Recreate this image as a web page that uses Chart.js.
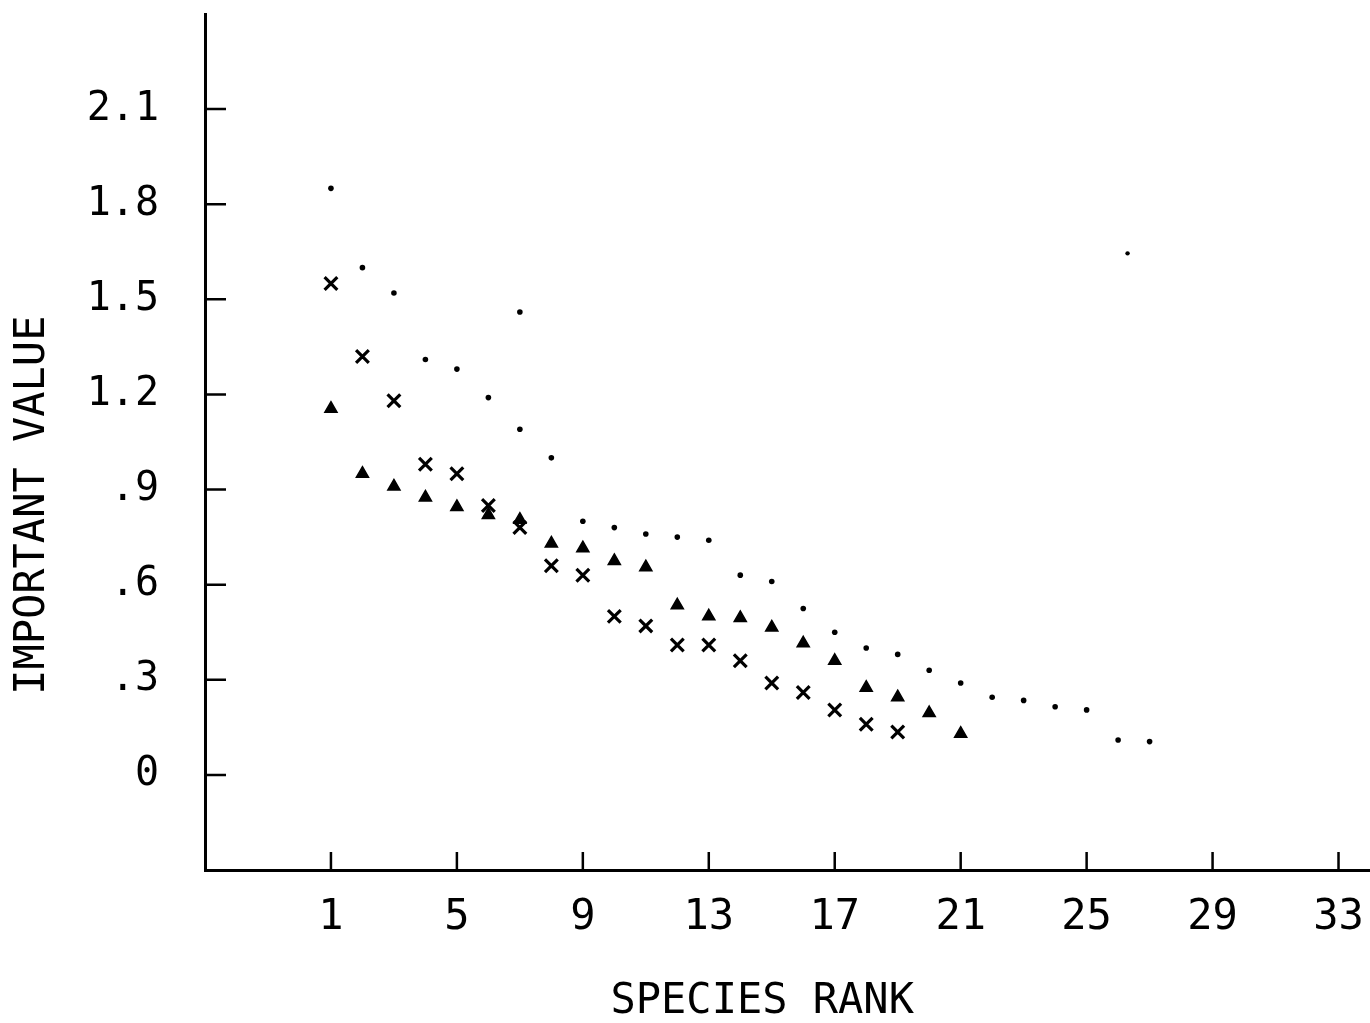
<!DOCTYPE html>
<html>
<head>
<meta charset="utf-8">
<title>Species rank vs important value</title>
<script src="https://cdn.jsdelivr.net/npm/chart.js@4.4.1/dist/chart.umd.min.js"></script>
<style>
  html, body { margin: 0; padding: 0; background: #fff; }
  #wrap { width: 1370px; height: 1023px; }
</style>
</head>
<body>
<div id="wrap"><canvas id="rankChart" width="1370" height="1023"></canvas></div>
<script>
// small dots (rank 7 has two marks)
const dotRanks = [1, 2, 3, 4, 5, 6, 7, 7, 8, 9, 10, 11, 12, 13, 14, 15, 16, 17, 18, 19, 20, 21, 22, 23, 24, 25, 26, 27];
const dotValues = [1.85, 1.60, 1.52, 1.31, 1.28, 1.19, 1.46, 1.09, 1.00, 0.80, 0.78, 0.76, 0.75, 0.74, 0.63, 0.61,
  0.525, 0.45, 0.40, 0.38, 0.33, 0.29, 0.245, 0.235, 0.215, 0.205, 0.11, 0.105];

// crosses
const crossRanks = [1, 2, 3, 4, 5, 6, 7, 8, 9, 10, 11, 12, 13, 14, 15, 16, 17, 18, 19];
const crossValues = [1.55, 1.32, 1.18, 0.98, 0.95, 0.85, 0.78, 0.66, 0.63, 0.50, 0.47, 0.41, 0.41, 0.36, 0.29, 0.26,
  0.205, 0.16, 0.135];

// triangles
const triRanks = [1, 2, 3, 4, 5, 6, 7, 8, 9, 10, 11, 12, 13, 14, 15, 16, 17, 18, 19, 20, 21];
const triValues = [1.155, 0.95, 0.91, 0.875, 0.845, 0.82, 0.805, 0.73, 0.715, 0.675, 0.655, 0.535, 0.50, 0.495, 0.465,
  0.415, 0.36, 0.275, 0.245, 0.195, 0.13];

// stray plotter mark
const strayRanks = [26.3];
const strayValues = [1.645];

const xTickValues = [1, 5, 9, 13, 17, 21, 25, 29, 33];
const yTickValues = [0, 0.3, 0.6, 0.9, 1.2, 1.5, 1.8, 2.1];
const yTickLabels = ["0", ".3", ".6", ".9", "1.2", "1.5", "1.8", "2.1"];

const MONO = "'DejaVu Sans Mono', 'Liberation Mono', monospace";

function toPoints(xs, ys) {
  return xs.map((x, i) => ({ x: x, y: ys[i] }));
}

// tick marks point into the plot, like the old plotter output
const inwardTicks = {
  id: "inwardTicks",
  afterDraw(chart) {
    const { ctx, scales: { x, y } } = chart;
    ctx.save();
    ctx.strokeStyle = "#000";
    ctx.lineWidth = 2.5;
    ctx.beginPath();
    yTickValues.forEach((v) => {
      const py = y.getPixelForValue(v);
      ctx.moveTo(x.left, py);
      ctx.lineTo(x.left + 21, py);
    });
    xTickValues.forEach((v) => {
      const px = x.getPixelForValue(v);
      ctx.moveTo(px, y.bottom);
      ctx.lineTo(px, y.bottom - 18);
    });
    ctx.stroke();
    ctx.restore();
  }
};

new Chart(document.getElementById("rankChart"), {
  type: "scatter",
  data: {
    datasets: [
      {
        label: "dots",
        data: toPoints(dotRanks, dotValues),
        pointStyle: "circle",
        pointRadius: 2.8,
        backgroundColor: "#000",
        borderColor: "#000",
        borderWidth: 0
      },
      {
        label: "crosses",
        data: toPoints(crossRanks, crossValues),
        pointStyle: "crossRot",
        pointRadius: 9,
        borderColor: "#000",
        borderWidth: 3.2
      },
      {
        label: "triangles",
        data: toPoints(triRanks, triValues),
        pointStyle: "triangle",
        pointRadius: 7,
        backgroundColor: "#000",
        borderColor: "#000",
        borderWidth: 1.5
      },
      {
        label: "stray",
        data: toPoints(strayRanks, strayValues),
        pointStyle: "circle",
        pointRadius: 2.2,
        backgroundColor: "#000",
        borderWidth: 0
      }
    ]
  },
  options: {
    responsive: false,
    animation: false,
    events: [],
    layout: { autoPadding: false, padding: { top: 14, right: 0, bottom: 0, left: 0 } },
    plugins: {
      legend: { display: false },
      tooltip: { enabled: false }
    },
    scales: {
      x: {
        type: "linear",
        position: "bottom",
        min: -3,
        max: 34,
        grid: { display: false },
        border: { display: true, color: "#000", width: 3 },
        afterBuildTicks: (scale) => {
          scale.ticks = xTickValues.map((v) => ({ value: v }));
        },
        afterFit: (scale) => {
          scale.height = 153;
          scale.paddingLeft = 0;
          scale.paddingRight = 0;
        },
        ticks: {
          autoSkip: false,
          maxRotation: 0,
          padding: 15,
          color: "#000",
          font: { family: MONO, size: 42 },
          callback: (v) => String(v)
        },
        title: {
          display: true,
          text: "SPECIES RANK\u00A0\u00A0",
          color: "#000",
          font: { family: MONO, size: 42, lineHeight: 1 },
          padding: 0
        }
      },
      y: {
        type: "linear",
        min: -0.3,
        max: 2.4,
        grid: { display: false },
        border: { display: true, color: "#000", width: 3 },
        afterBuildTicks: (scale) => {
          scale.ticks = yTickValues.map((v) => ({ value: v }));
        },
        afterFit: (scale) => {
          scale.width = 205;
          scale.paddingTop = 0;
          scale.paddingBottom = 0;
        },
        ticks: {
          autoSkip: false,
          padding: 38,
          color: "#000",
          font: { family: MONO, size: 40 },
          callback: (v, i) => yTickLabels[i]
        },
        title: {
          display: true,
          text: "IMPORTANT VALUE\u00A0\u00A0\u00A0\u00A0\u00A0",
          color: "#000",
          font: { family: MONO, size: 42 },
          padding: { top: 8, bottom: 0 }
        }
      }
    }
  },
  plugins: [inwardTicks]
});
</script>
</body>
</html>
